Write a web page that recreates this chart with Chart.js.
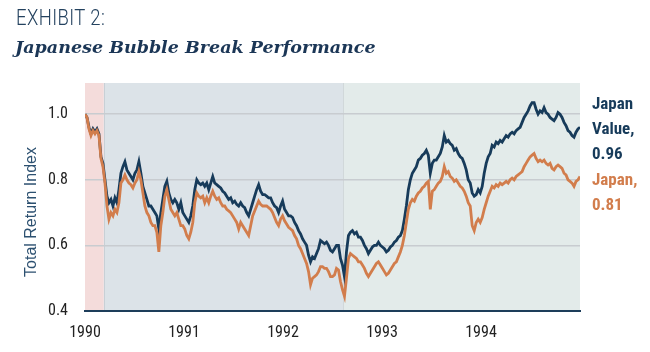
<!DOCTYPE html>
<html>
<head>
<meta charset="utf-8">
<script src="https://cdn.jsdelivr.net/npm/chart.js@4"></script>
<style>
  html, body { margin: 0; padding: 0; background: #fff; }
  #wrap { position: relative; width: 650px; height: 352px; overflow: hidden; }
  #exhibit {
    position: absolute; left: 16px; top: 5px;
    font-family: Roboto, 'Liberation Sans', sans-serif; font-weight: 300;
    font-size: 22px; letter-spacing: 0.5px; color: #24425f;
    transform: scaleX(0.84); transform-origin: left top; white-space: nowrap;
  }
  #subtitle {
    position: absolute; left: 15px; top: 37px;
    font-family: 'DejaVu Serif', 'Liberation Serif', serif; font-weight: bold; font-style: italic;
    font-size: 17.5px; color: #1b3656; white-space: nowrap;
  }
  canvas { position: absolute; left: 0; top: 0; }
</style>
</head>
<body>
<div id="wrap">
  <canvas id="chart" width="650" height="352"></canvas>
  <div id="exhibit">EXHIBIT 2:</div>
  <div id="subtitle">Japanese Bubble Break Performance</div>
</div>
<script>
const yearTicks = [1990, 1991, 1992, 1993, 1994];
const valueTicks = [0.4, 0.6, 0.8, 1.0];

// shaded periods (decimal years)
const periodStarts = [1990.0, 1990.19, 1992.61];
const periodEnds = [1990.19, 1992.61, 1995.0];

// sampled roughly every week, Jan 1990 - Dec 1994
const japanValue = [
    1.00, 0.99, 0.96, 0.94, 0.955, 0.945, 0.955, 0.94,
    0.87, 0.85, 0.80, 0.75, 0.73, 0.74, 0.72, 0.745, 0.73, 0.77,
    0.82, 0.84, 0.855, 0.83, 0.82, 0.81, 0.80, 0.82, 0.83, 0.855,
    0.82, 0.78, 0.76, 0.74, 0.72, 0.72, 0.71, 0.70, 0.69, 0.65,
    0.70, 0.74, 0.78, 0.795, 0.76, 0.74, 0.73, 0.74, 0.73, 0.71,
    0.73, 0.70, 0.69, 0.68, 0.67, 0.69, 0.72, 0.77, 0.80, 0.79,
    0.785, 0.79, 0.78, 0.79, 0.77, 0.79, 0.81, 0.79, 0.785, 0.78,
    0.775, 0.765, 0.76, 0.75, 0.74, 0.745, 0.73, 0.735, 0.725, 0.72,
    0.73, 0.72, 0.715, 0.70, 0.69, 0.71, 0.73, 0.75, 0.77, 0.785,
    0.765, 0.755, 0.755, 0.75, 0.745, 0.745, 0.73, 0.72, 0.715, 0.70,
    0.72, 0.735, 0.71, 0.70, 0.69, 0.69, 0.685, 0.67, 0.66, 0.645,
    0.635, 0.62, 0.61, 0.60, 0.57, 0.55, 0.565, 0.56, 0.575, 0.59,
    0.615, 0.61, 0.605, 0.61, 0.60, 0.585, 0.58, 0.59, 0.60, 0.60,
    0.56, 0.54, 0.505, 0.58, 0.63, 0.64, 0.645, 0.635, 0.64, 0.625,
    0.625, 0.615, 0.60, 0.59, 0.575, 0.585, 0.595, 0.60, 0.60, 0.61,
    0.60, 0.595, 0.59, 0.58, 0.585, 0.595, 0.60, 0.61, 0.615, 0.625,
    0.63, 0.645, 0.68, 0.72, 0.77, 0.80, 0.82, 0.83, 0.84, 0.86,
    0.865, 0.875, 0.88, 0.89, 0.875, 0.82, 0.85, 0.86, 0.86, 0.87,
    0.88, 0.90, 0.935, 0.915, 0.92, 0.91, 0.905, 0.89, 0.895, 0.88,
    0.87, 0.865, 0.85, 0.83, 0.80, 0.79, 0.76, 0.75, 0.755, 0.77,
    0.76, 0.78, 0.82, 0.85, 0.87, 0.88, 0.905, 0.90, 0.915, 0.91,
    0.92, 0.915, 0.925, 0.935, 0.93, 0.94, 0.945, 0.94, 0.95, 0.955,
    0.96, 0.975, 0.99, 1.00, 1.01, 1.025, 1.035, 1.035, 1.015, 1.00,
    1.01, 1.005, 1.02, 1.005, 1.00, 0.99, 0.985, 0.98, 0.99, 1.005,
    1.00, 0.99, 0.975, 0.965, 0.95, 0.945, 0.935, 0.93, 0.945, 0.955,
    0.96
];

const japan = [
    1.00, 0.99, 0.955, 0.935, 0.95, 0.94, 0.95, 0.935,
    0.865, 0.84, 0.79, 0.72, 0.68, 0.70, 0.69, 0.71, 0.70, 0.73,
    0.79, 0.80, 0.815, 0.80, 0.79, 0.785, 0.775, 0.79, 0.80, 0.825,
    0.80, 0.76, 0.72, 0.70, 0.69, 0.67, 0.66, 0.66, 0.64, 0.58,
    0.66, 0.70, 0.75, 0.77, 0.74, 0.71, 0.70, 0.69, 0.70, 0.68,
    0.66, 0.66, 0.65, 0.63, 0.62, 0.64, 0.67, 0.73, 0.76, 0.75,
    0.745, 0.75, 0.73, 0.745, 0.73, 0.75, 0.765, 0.75, 0.74, 0.745,
    0.73, 0.72, 0.72, 0.71, 0.705, 0.70, 0.69, 0.68, 0.67, 0.65,
    0.67, 0.66, 0.65, 0.64, 0.63, 0.66, 0.69, 0.705, 0.72, 0.735,
    0.725, 0.72, 0.72, 0.72, 0.715, 0.71, 0.70, 0.685, 0.67, 0.66,
    0.68, 0.69, 0.675, 0.665, 0.655, 0.65, 0.645, 0.63, 0.62, 0.60,
    0.59, 0.575, 0.56, 0.545, 0.52, 0.48, 0.50, 0.505, 0.51, 0.52,
    0.535, 0.535, 0.53, 0.53, 0.52, 0.505, 0.505, 0.51, 0.53, 0.525,
    0.49, 0.465, 0.445, 0.50, 0.56, 0.575, 0.57, 0.565, 0.56, 0.55,
    0.55, 0.54, 0.53, 0.515, 0.505, 0.515, 0.525, 0.535, 0.545, 0.55,
    0.54, 0.53, 0.52, 0.51, 0.515, 0.525, 0.535, 0.545, 0.55, 0.565,
    0.58, 0.60, 0.63, 0.67, 0.71, 0.73, 0.74, 0.735, 0.75, 0.76,
    0.765, 0.775, 0.78, 0.79, 0.795, 0.71, 0.765, 0.77, 0.78, 0.79,
    0.795, 0.81, 0.84, 0.82, 0.825, 0.81, 0.805, 0.795, 0.80, 0.79,
    0.78, 0.775, 0.765, 0.75, 0.73, 0.72, 0.66, 0.645, 0.67, 0.68,
    0.67, 0.685, 0.71, 0.73, 0.75, 0.765, 0.78, 0.775, 0.785, 0.78,
    0.79, 0.785, 0.79, 0.795, 0.79, 0.80, 0.805, 0.80, 0.81, 0.815,
    0.82, 0.825, 0.84, 0.85, 0.86, 0.87, 0.875, 0.88, 0.865, 0.855,
    0.86, 0.855, 0.86, 0.85, 0.845, 0.85, 0.835, 0.83, 0.84, 0.845,
    0.84, 0.835, 0.82, 0.815, 0.80, 0.795, 0.79, 0.78, 0.795, 0.80,
    0.81
];

const startYear = 1990;
const endYear = 1995;
const condensed = "'Roboto Condensed', 'Liberation Sans Narrow', 'DejaVu Sans Condensed', Roboto, sans-serif";

const NAVY = '#173b5a';
const ORANGE = '#d27d4c';

function toPoints(values) {
    const step = (endYear - startYear) / (values.length - 1);
    return values.map((v, i) => ({ x: startYear + i * step, y: v }));
}

// background periods + y title + end labels
const decorPlugin = {
    id: 'decor',
    beforeDraw(chart) {
        const { ctx, chartArea, scales } = chart;
        const colors = ['#f4dcdb', '#dce3e8', '#e3ebea'];
        ctx.save();
        periodStarts.forEach((s, i) => {
            const x0 = scales.x.getPixelForValue(s);
            const x1 = scales.x.getPixelForValue(periodEnds[i]);
            ctx.fillStyle = colors[i];
            ctx.fillRect(x0, chartArea.top, x1 - x0, chartArea.bottom - chartArea.top);
            if (i > 0) {
                ctx.fillStyle = 'rgba(140,150,160,0.25)';
                ctx.fillRect(Math.round(x0), chartArea.top, 1, chartArea.bottom - chartArea.top);
            }
        });
        ctx.restore();
    },
    afterDraw(chart) {
        const { ctx, chartArea } = chart;
        ctx.save();
        // y axis title
        ctx.translate(32, (chartArea.top + chartArea.bottom) / 2 + 15);
        ctx.rotate(-Math.PI / 2);
        ctx.font = "16px 'Liberation Sans', Arial, sans-serif";
        ctx.fillStyle = '#2c5070';
        ctx.textAlign = 'center';
        ctx.textBaseline = 'middle';
        ctx.fillText('Total Return Index', 0, 0);
        ctx.restore();

        ctx.save();
        ctx.font = 'bold 17px ' + condensed;
        ctx.textBaseline = 'middle';
        ctx.textAlign = 'left';
        const lx = chartArea.right + 12;
        ctx.fillStyle = NAVY;
        ctx.fillText('Japan', lx, 105);
        ctx.fillText('Value,', lx, 130);
        ctx.fillText('0.96', lx, 155);
        ctx.fillStyle = ORANGE;
        ctx.fillText('Japan,', lx, 181);
        ctx.fillText('0.81', lx, 206);
        ctx.restore();
    }
};

const ctx = document.getElementById('chart').getContext('2d');
new Chart(ctx, {
    type: 'line',
    data: {
        datasets: [{
            label: 'Japan',
            data: toPoints(japan),
            borderColor: ORANGE,
            borderWidth: 2.8,
            pointRadius: 0,
            tension: 0,
            order: 1
        }, {
            label: 'Japan Value',
            data: toPoints(japanValue),
            borderColor: NAVY,
            borderWidth: 2.8,
            pointRadius: 0,
            tension: 0,
            order: 2
        }]
    },
    options: {
        responsive: false,
        animation: false,
        layout: {
            padding: { top: 83, right: 70, left: 0, bottom: 0 }
        },
        plugins: {
            legend: { display: false },
            tooltip: { enabled: false }
        },
        scales: {
            x: {
                type: 'linear',
                min: startYear,
                max: endYear,
                afterBuildTicks: scale => { scale.ticks = yearTicks.map(v => ({ value: v })); },
                afterFit: scale => { scale.height = 41; },
                grid: { display: false, drawTicks: false },
                border: { display: true, color: '#1d3d5a', width: 2 },
                ticks: {
                    autoSkip: false,
                    maxRotation: 0,
                    padding: 12,
                    color: '#222',
                    font: { family: condensed, size: 16 },
                    callback: v => String(v)
                }
            },
            y: {
                min: 0.4,
                max: 1.095,
                afterBuildTicks: scale => { scale.ticks = valueTicks.map(v => ({ value: v })); },
                afterFit: scale => { scale.width = 85; },
                grid: {
                    drawTicks: false,
                    color: c => (c.tick && c.tick.value === 0.4) ? 'rgba(0,0,0,0)' : '#c8ccd0',
                    lineWidth: 1.5
                },
                border: { display: false },
                ticks: {
                    padding: 17,
                    color: '#222',
                    font: { family: condensed, size: 16 },
                    callback: v => v.toFixed(1)
                }
            }
        }
    },
    plugins: [decorPlugin]
});
</script>
</body>
</html>
